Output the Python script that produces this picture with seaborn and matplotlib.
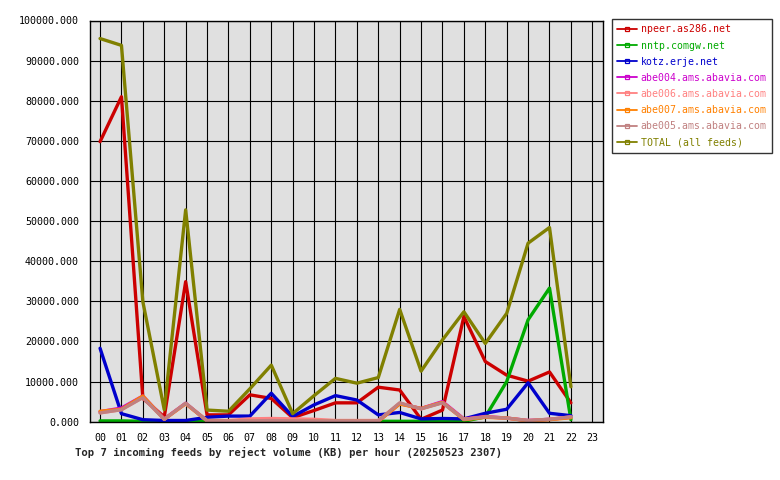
import matplotlib
matplotlib.use("Agg")
import matplotlib.pyplot as plt
from matplotlib.lines import Line2D
import seaborn as sns
import pandas as pd

hours = list(range(23))
hour_labels = [f"{h:02d}" for h in range(24)]

series_names = ["npeer.as286.net", "nntp.comgw.net", "kotz.erje.net",
                "abe004.ams.abavia.com", "abe006.ams.abavia.com",
                "abe007.ams.abavia.com", "abe005.ams.abavia.com",
                "TOTAL (all feeds)"]
colors = ["#cc0000", "#00aa00", "#0000cc", "#cc00cc", "#ff8080",
          "#ff8000", "#c08080", "#808000"]

npeer = [69800, 81000, 5800, 1200, 34900, 1700, 1700, 6700, 5800, 1000, 2800, 4700,
         4700, 8600, 7900, 600, 2900, 26200, 15000, 11600, 10100, 12400, 4700]
nntp = [200, 200, 100, 100, 100, 200, 100, 100, 100, 100, 200, 100,
        100, 100, 100, 100, 100, 100, 1200, 10000, 25400, 33300, 500]
kotz = [18300, 2000, 500, 300, 300, 1100, 1400, 1400, 7100, 1300, 4200, 6500,
        5400, 1700, 2300, 700, 800, 700, 2100, 3100, 9700, 2100, 1500]
abe004 = [2500, 3400, 6400, 700, 4600, 200, 100, 100, 100, 100, 100, 100,
          100, 100, 4500, 3300, 5000, 700, 1300, 900, 300, 600, 1100]
abe006 = [2200, 3000, 6100, 600, 4500, 300, 300, 700, 800, 700, 600, 300,
          300, 300, 4600, 3200, 4800, 600, 1200, 900, 300, 600, 1200]
abe007 = [2600, 3100, 6400, 600, 4500, 200, 100, 100, 100, 100, 100, 100,
          100, 100, 4400, 3300, 4800, 500, 1100, 900, 200, 500, 1000]
abe005 = [2200, 3000, 6000, 600, 4600, 200, 200, 200, 300, 200, 200, 200,
          200, 200, 4700, 3200, 4700, 600, 1200, 900, 300, 600, 1200]
total = [95500, 93800, 29900, 3000, 52800, 2900, 2600, 8200, 14100, 2000, 6500, 10800,
         9600, 11000, 28000, 12600, 20400, 27400, 19500, 27000, 44500, 48400, 8700]

values = [npeer, nntp, kotz, abe004, abe006, abe007, abe005, total]
rows = []
for name, vals in zip(series_names, values):
    for h, v in zip(hours, vals):
        rows.append({"hour": h, "kb": v, "feed": name})
df = pd.DataFrame(rows)

sns.set_style("white")
plt.rcParams['font.family'] = ['DejaVu Sans Mono', 'DejaVu Sans']

fig = plt.figure(figsize=(7.8, 4.8), dpi=100)
ax = fig.add_axes([90/780, 1 - 421.7/480, (603 - 90)/780, (421.7 - 20.5)/480])
ax.set_facecolor("#e0e0e0")

sns.lineplot(data=df, x="hour", y="kb", hue="feed", hue_order=series_names,
             palette=dict(zip(series_names, colors)), linewidth=2.4,
             legend=False, ax=ax, sort=False)

ax.set_xlim(-0.47, 23.5)
ax.set_ylim(0, 100000)
ax.set_xticks(range(24))
ax.set_xticklabels(hour_labels)
yt = list(range(0, 100001, 10000))
ax.set_yticks(yt)
ax.set_yticklabels([f"{v:.3f}" for v in yt])
ax.grid(True, color="black", linewidth=0.8)
ax.set_axisbelow(True)
for s in ax.spines.values():
    s.set_color("black")
    s.set_linewidth(1.0)
ax.tick_params(axis="both", direction="out", length=5, width=0.8,
               colors="black", labelsize=7.2, pad=3)
ax.set_xlabel("")
ax.set_ylabel("")

fig.text(75/780, 1 - 452/480, "Top 7 incoming feeds by reject volume (KB) per hour (20250523 2307)",
         fontsize=7.6, fontweight="bold", ha="left", va="center")

handles = [Line2D([0], [0], color=c, linewidth=1.3, marker="s", markersize=3,
                  markerfacecolor="none", markeredgewidth=0.9) for c in colors]
leg = fig.legend(handles, series_names, loc="upper left",
                 bbox_to_anchor=(612/780, 1 - 19/480), frameon=True,
                 fancybox=False, edgecolor="black", fontsize=7.1,
                 handlelength=2.0, handletextpad=0.35, labelspacing=0.62,
                 borderpad=0.55, borderaxespad=0)
leg.get_frame().set_linewidth(1.0)
for t, c in zip(leg.get_texts(), colors):
    t.set_color(c)

fig.savefig("out.png", dpi=100)
